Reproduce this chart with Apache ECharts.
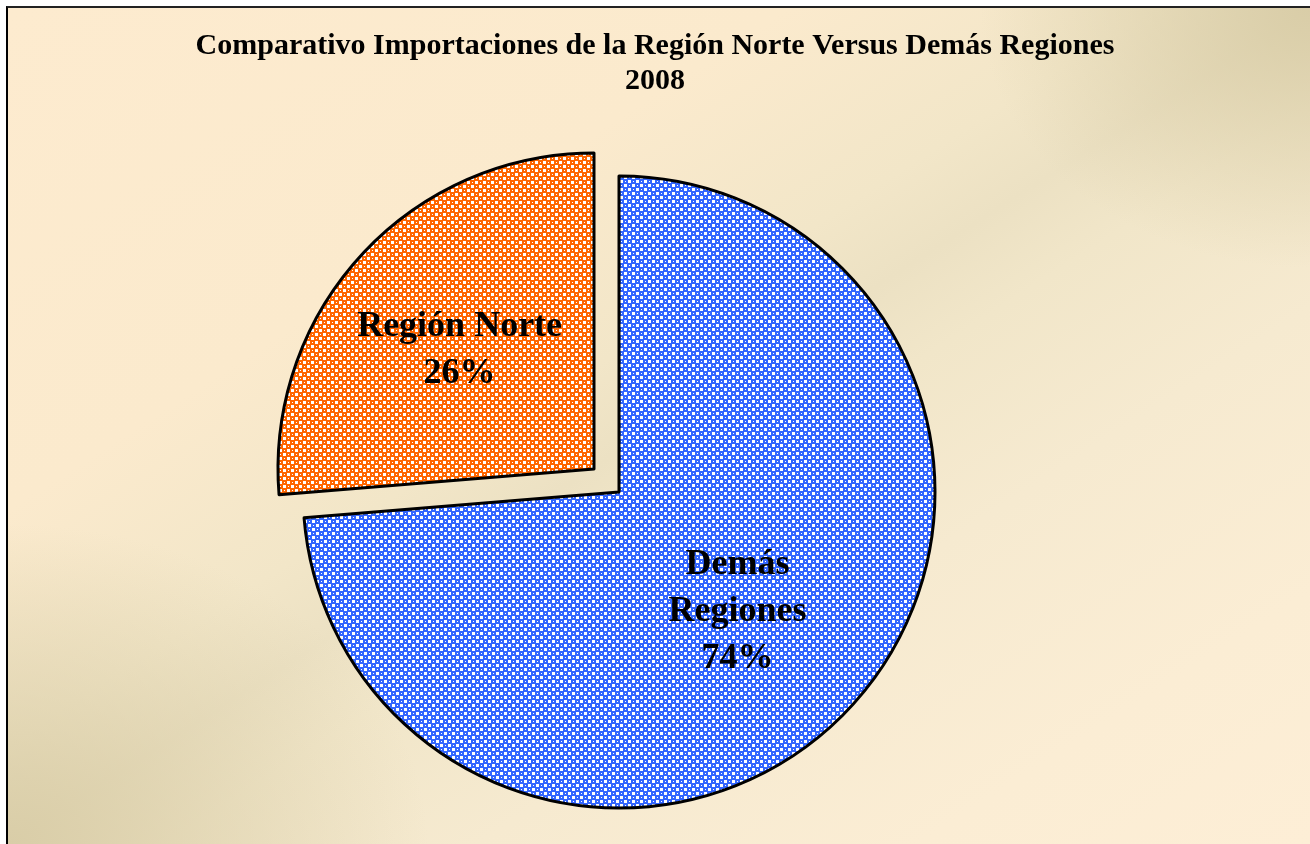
<!DOCTYPE html>
<html lang="es">
<head>
  <meta charset="utf-8">
  <title>Importaciones Region Norte 2008</title>
  <style>
    html, body { margin: 0; padding: 0; background: #ffffff; overflow: hidden; }
    #marco {
      position: absolute; left: 6px; top: 6px; right: 0; bottom: 0;
      border-left: 2px solid #000; border-top: 2px solid #222;
      background:
        radial-gradient(ellipse 330px 260px at 100% 0%, rgba(216,204,166,0.95), rgba(216,204,166,0) 100%),
        radial-gradient(ellipse 420px 320px at 0% 100%, rgba(216,204,166,0.95), rgba(216,204,166,0) 100%),
        linear-gradient(to bottom right,
          #fdebcf 0%, #fbeacd 30%, #f2e6c8 44%, #ece1c3 50%,
          #f1e6c9 56%, #f6ead0 68%, #fbedd4 85%, #fdeed6 100%);
    }
    #chart1 { position: absolute; left: 0; top: 0; width: 1310px; height: 844px; }
  </style>
</head>
<body>

<script src="https://cdn.jsdelivr.net/npm/echarts@6/dist/echarts.min.js"></script>

<div id="marco"></div>
<div id="chart1"></div>

<script>
  // datos
  var categorias = ['Demás Regiones', 'Región Norte'];
  var valores = [73.7, 26.3];
  var etiquetas = ['Demás\nRegiones', 'Región Norte'];

  // trama tipo cuadriculado (como el relleno de Excel)
  function trama(color) {
    var c = document.createElement('canvas');
    c.width = 8; c.height = 8;
    var ctx = c.getContext('2d');
    ctx.fillStyle = color;
    ctx.fillRect(0, 0, 8, 8);
    ctx.fillStyle = '#ffffff';
    ctx.fillRect(0, 0, 3, 3);
    ctx.fillRect(4, 4, 3, 3);
    ctx.fillRect(5, 1, 1, 1);
    ctx.fillRect(1, 5, 1, 1);
    return { image: c, repeat: 'repeat' };
  }

  var colores = [trama('#3366ff'), trama('#ff6600')];

  function cargar_chart() {
    var chart1 = echarts.init(document.getElementById('chart1'));

    var datos = [];
    for (var i = 0; i < categorias.length; i++) {
      datos.push({
        name: categorias[i],
        value: valores[i],
        selected: i === 1,
        itemStyle: { color: colores[i] }
      });
    }

    var option = {
      backgroundColor: 'transparent',
      animation: false,
      title: {
        text: 'Comparativo Importaciones de la Región Norte Versus Demás Regiones\n2008',
        left: 'center',
        top: 24,
        textStyle: {
          fontFamily: 'Liberation Serif',
          fontWeight: 'bold',
          fontSize: 30,
          lineHeight: 35,
          color: '#000'
        }
      },
      series: [
        {
          type: 'pie',
          center: [619, 492],
          radius: 316,
          startAngle: 90,
          clockwise: true,
          selectedMode: 'single',
          selectedOffset: 34,
          avoidLabelOverlap: false,
          itemStyle: { borderColor: '#000', borderWidth: 3 },
          label: {
            position: 'inner',
            fontFamily: 'Liberation Serif',
            fontWeight: 'bold',
            fontSize: 36,
            lineHeight: 47,
            color: '#000',
            formatter: function (p) {
              return etiquetas[p.dataIndex] + '\n' + Math.round(p.percent) + '%';
            }
          },
          labelLine: { show: false },
          labelLayout: function (p) {
            if (p.dataIndex === 1) { return { dx: -16, dy: -10 }; }
            return { dx: 0, dy: 11 };
          },
          emphasis: { disabled: true },
          data: datos
        }
      ]
    };
    chart1.setOption(option);
  }

  cargar_chart();
</script>

</body>
</html>
